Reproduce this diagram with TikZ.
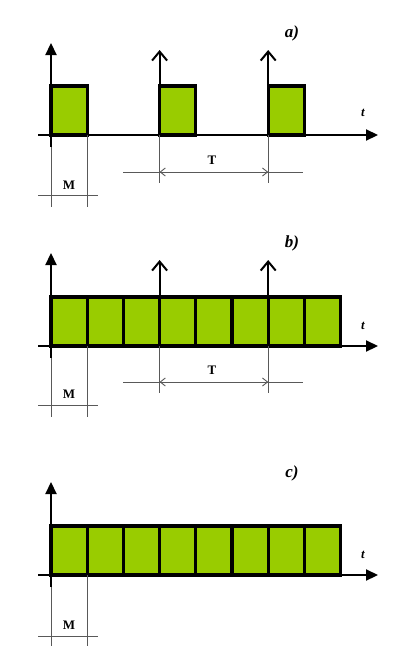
\documentclass[tikz,border=0pt]{standalone}
\usepackage{fontspec}
\setmainfont{Liberation Serif}
\usepackage{tikz}
\usetikzlibrary{arrows.meta, positioning}
\definecolor{pulsegreen}{RGB}{153,204,0}

\begin{document}
\begin{tikzpicture}[x=1pt, y=-1pt,
        axis/.style={line width=2.2pt, -{Triangle[length=12pt, width=11pt]}},
        marker/.style={line width=2pt, -{Straight Barb[length=9pt, width=15pt, line width=2pt]}},
        pulse/.style={draw, line width=3.2pt, fill=pulsegreen, minimum width=36.2pt, minimum height=49pt, inner sep=0pt, outer sep=0pt, anchor=south west},
        dim/.style={gray!70!black, line width=0.9pt},
        dimarrow/.style={dim, {Straight Barb[length=5pt, width=8pt]}-{Straight Barb[length=5pt, width=8pt]}},
        panel/.style={font=\bfseries\itshape\fontsize{17}{17}\selectfont},
        tlabel/.style={font=\bfseries\itshape\fontsize{13}{13}\selectfont},
        dimlabel/.style={font=\bfseries\fontsize{13}{13}\selectfont}]
        \useasboundingbox (0,0) rectangle (398,646);

        % Panel a
        \foreach \k in {0,3,6}
            \node[pulse] (ap\k) at ({51+\k*36.2},135) {};
        \coordinate (aM3) at (ap3.south west |- 0,50);
        \coordinate (aM6) at (ap6.south west |- 0,50);
        \draw[marker] (ap3.south west) -- (aM3);
        \draw[marker] (ap6.south west) -- (aM6);
        \coordinate (aXl) at (38,135);
        \coordinate (aXr) at (378,135);
        \coordinate (aYb) at (51,147);
        \coordinate (aYt) at (51,43);
        \draw[axis] (aXl) -- (aXr);
        \draw[axis] (aYb) -- (aYt);
        \node[tlabel] (at) at (363,113) {t};
        \node[panel] (alabel) at (292,33) {a)};
        % T and M dimensions
        \coordinate (aT1) at (ap3.south west |- 0,183);
        \coordinate (aT2) at (ap6.south west |- 0,183);
        \coordinate (aTl) at (123,172);
        \coordinate (aTr) at (303,172);
        \draw[dim] (ap3.south west) -- (aT1);
        \draw[dim] (ap6.south west) -- (aT2);
        \draw[dim] (aTl) -- (aTr);
        \draw[dimarrow] (aT1 |- aTl) -- (aT2 |- aTl);
        \node[dimlabel] (aT) at (212,160) {T};
        \coordinate (aM1) at (ap0.south west |- 0,207);
        \coordinate (aM2) at (ap0.south east |- 0,207);
        \coordinate (aMl) at (38,195);
        \coordinate (aMr) at (98,195);
        \draw[dim] (aYb) -- (aM1);
        \draw[dim] (ap0.south east) -- (aM2);
        \draw[dim] (aMl) -- (aMr);
        \node[dimlabel] (aM) at (69,185) {M};

        % Panel b
        \foreach \k in {0,...,7}
            \node[pulse] (bp\k) at ({51+\k*36.2},346) {};
        \coordinate (bM3) at (bp3.south west |- 0,260);
        \coordinate (bM6) at (bp6.south west |- 0,260);
        \draw[marker] (bp3.south west) -- (bM3);
        \draw[marker] (bp6.south west) -- (bM6);
        \coordinate (bXl) at (38,346);
        \coordinate (bXr) at (378,346);
        \coordinate (bYb) at (51,358);
        \coordinate (bYt) at (51,253);
        \draw[axis] (bXl) -- (bXr);
        \draw[axis] (bYb) -- (bYt);
        \node[tlabel] (bt) at (363,326) {t};
        \node[panel] (blabel) at (292,243) {b)};
        % T and M dimensions
        \coordinate (bT1) at (bp3.south west |- 0,393);
        \coordinate (bT2) at (bp6.south west |- 0,393);
        \coordinate (bTl) at (123,382);
        \coordinate (bTr) at (303,382);
        \draw[dim] (bp3.south west) -- (bT1);
        \draw[dim] (bp6.south west) -- (bT2);
        \draw[dim] (bTl) -- (bTr);
        \draw[dimarrow] (bT1 |- bTl) -- (bT2 |- bTl);
        \node[dimlabel] (bT) at (212,370) {T};
        \coordinate (bM1) at (bp0.south west |- 0,417);
        \coordinate (bM2) at (bp0.south east |- 0,417);
        \coordinate (bMl) at (38,405);
        \coordinate (bMr) at (98,405);
        \draw[dim] (bYb) -- (bM1);
        \draw[dim] (bp0.south east) -- (bM2);
        \draw[dim] (bMl) -- (bMr);
        \node[dimlabel] (bM) at (69,394) {M};

        % Panel c
        \foreach \k in {0,...,7}
            \node[pulse] (cp\k) at ({51+\k*36.2},575) {};
        \coordinate (cXl) at (38,575);
        \coordinate (cXr) at (378,575);
        \coordinate (cYb) at (51,587);
        \coordinate (cYt) at (51,482);
        \draw[axis] (cXl) -- (cXr);
        \draw[axis] (cYb) -- (cYt);
        \node[tlabel] (ct) at (363,555) {t};
        \node[panel] (clabel) at (292,473) {c)};
        % M dimension
        \coordinate (cM1) at (cp0.south west |- 0,646);
        \coordinate (cM2) at (cp0.south east |- 0,646);
        \coordinate (cMl) at (38,636);
        \coordinate (cMr) at (98,636);
        \draw[dim] (cYb) -- (cM1);
        \draw[dim] (cp0.south east) -- (cM2);
        \draw[dim] (cMl) -- (cMr);
        \node[dimlabel] (cM) at (69,625) {M};
    \end{tikzpicture}
\end{document}
